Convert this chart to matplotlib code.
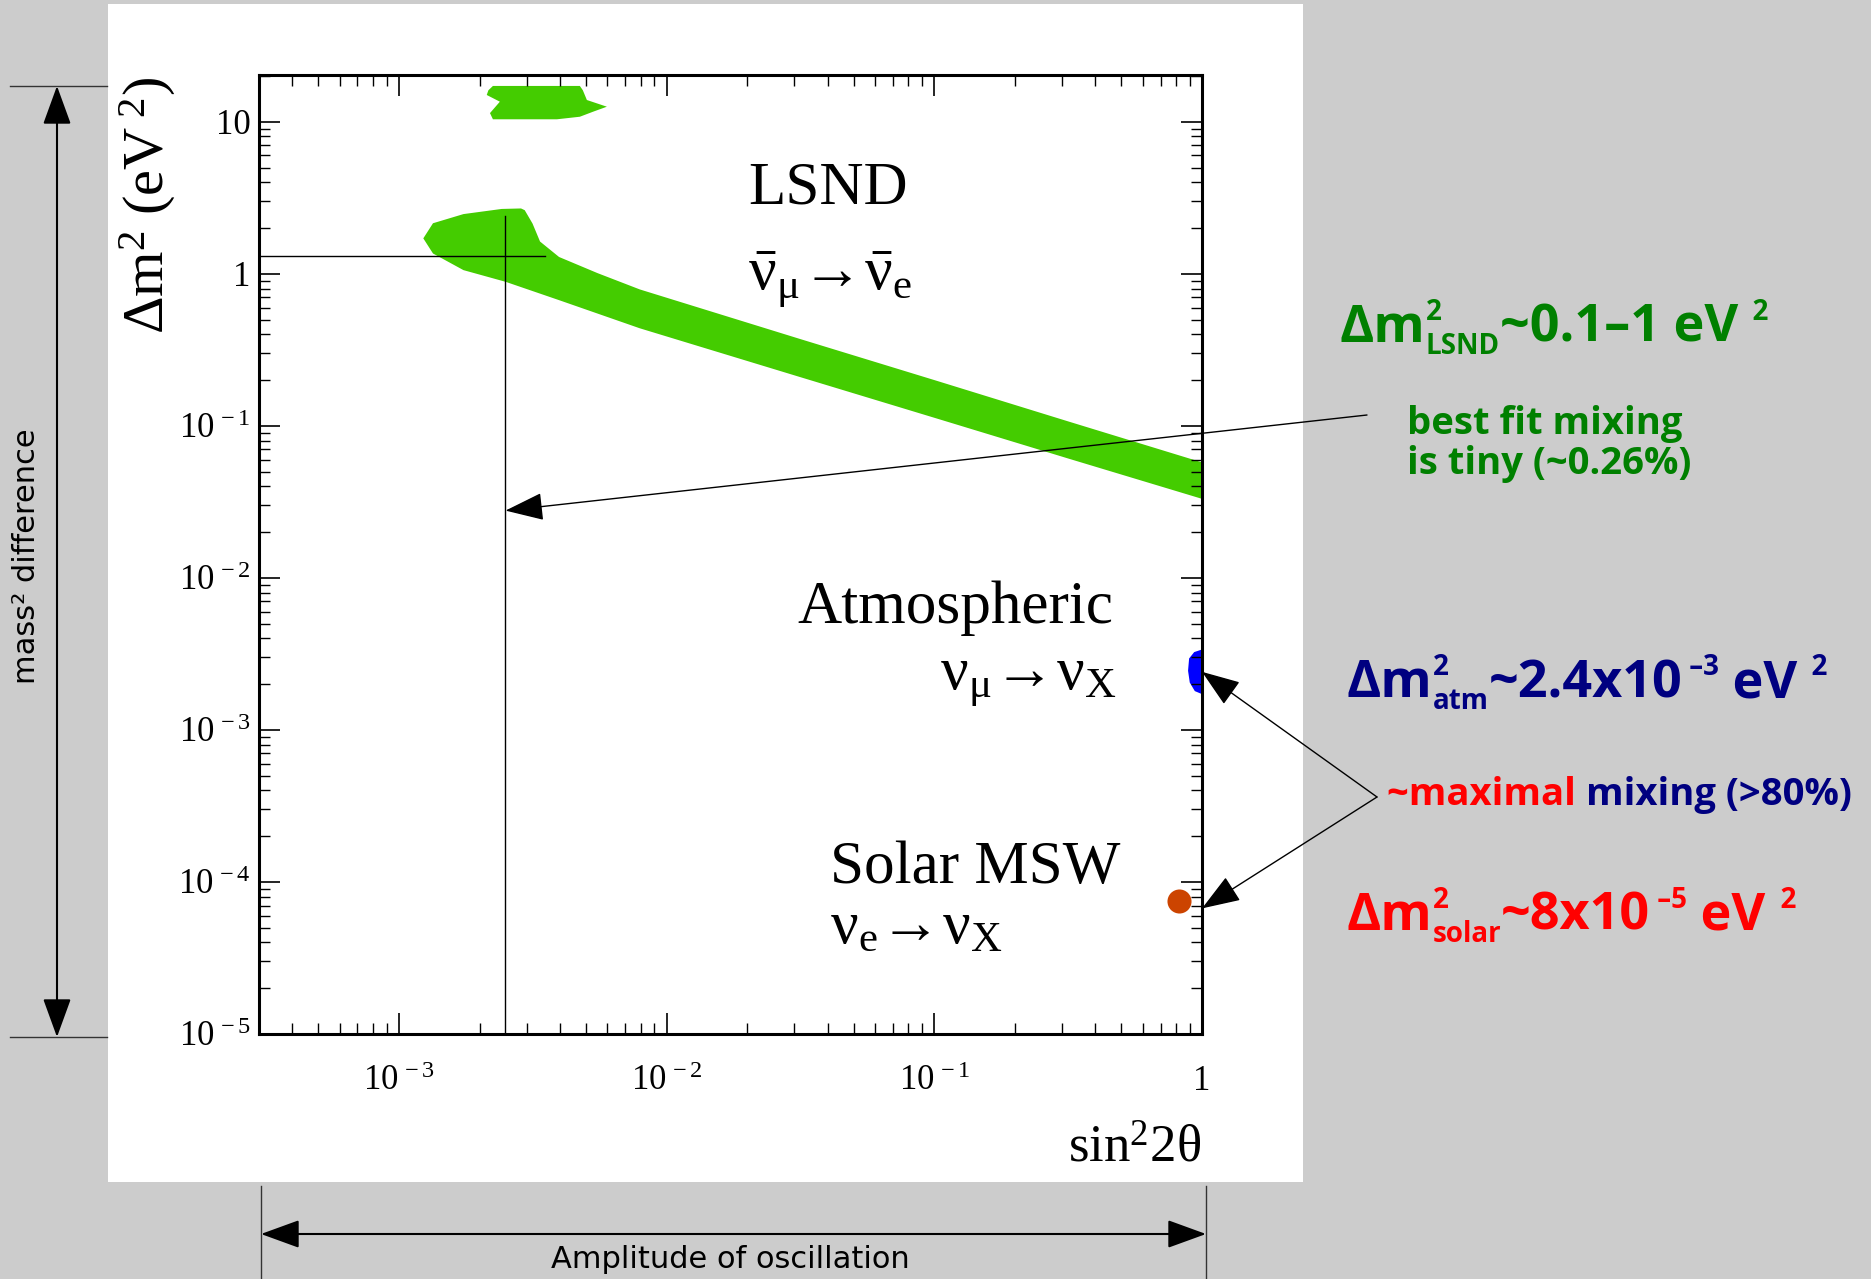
import matplotlib.pyplot as plt
from matplotlib.patches import Rectangle
from matplotlib.ticker import NullFormatter

plt.rcParams['mathtext.fontset'] = 'custom'
plt.rcParams['mathtext.rm'] = 'Liberation Serif'
plt.rcParams['mathtext.it'] = 'Liberation Serif:italic'
plt.rcParams['mathtext.bf'] = 'Liberation Serif:bold'
plt.rcParams['font.family'] = ['Liberation Serif', 'DejaVu Sans']

# axis ticks
x_ticks = [1e-3, 1e-2, 1e-1, 1]
x_ticklabels = [r'$10^{\,-3}$', r'$10^{\,-2}$', r'$10^{\,-1}$', '1']
y_ticks = [1e-5, 1e-4, 1e-3, 1e-2, 1e-1, 1, 10]
y_ticklabels = [r'$10^{\,-5}$', r'$10^{\,-4}$', r'$10^{\,-3}$', r'$10^{\,-2}$',
                r'$10^{\,-1}$', '1', '10']

# LSND allowed region (sin^2 2theta, dm^2)
lsnd_x = [1.233e-3, 1.34e-3, 1.742e-3, 2.42e-3, 2.858e-3, 2.95e-3, 3.155e-3, 3.365e-3,
          3.963e-3, 5.52e-3, 7.94e-3, 3.16e-2, 0.1, 0.316, 1.0,
          1.0, 0.316, 0.1, 3.16e-2, 7.94e-3, 3.963e-3, 2.506e-3, 1.742e-3, 1.34e-3]
lsnd_y = [1.71, 2.15, 2.47, 2.67, 2.69, 2.62, 2.14, 1.63,
          1.29, 1.01, 0.789, 0.372, 0.200, 0.107, 0.0575,
          0.0331, 0.061, 0.113, 0.209, 0.438, 0.671, 0.885, 1.057, 1.36]
# small LSND island near 10 eV^2
lsnd_hi_x = [2.128e-3, 2.158e-3, 2.244e-3, 4.74e-3, 4.864e-3, 5.035e-3, 5.98e-3,
             5.31e-3, 4.74e-3, 3.89e-3, 2.244e-3, 2.188e-3, 2.382e-3]
lsnd_hi_y = [15.0, 16.1, 17.2, 17.2, 16.1, 13.9, 12.56,
             11.64, 10.79, 10.38, 10.38, 11.4, 13.55]
# atmospheric region (at maximal mixing)
atm_x = [1.0, 0.935, 0.895, 0.887, 0.9, 0.94, 1.0]
atm_y = [3.38e-3, 3.25e-3, 2.95e-3, 2.45e-3, 2.05e-3, 1.80e-3, 1.72e-3]
# solar MSW best fit
solar_x = [0.82]
solar_y = [7.5e-5]
# LSND best fit cross-hair
best_x = 2.5e-3
best_y = 1.3

W, H = 1871, 1279
fig = plt.figure(figsize=(W / 100, H / 100), dpi=100, facecolor='#cccccc')
fig.add_artist(Rectangle((108 / W, 1 - 1182 / H), (1303 - 108) / W, (1182 - 4) / H,
                         transform=fig.transFigure, facecolor='white',
                         edgecolor='none', zorder=-1))

ax = fig.add_axes([259 / W, 1 - 1034 / H, (1202 - 259) / W, (1034 - 75) / H])
ax.set_xscale('log')
ax.set_yscale('log')
ax.set_xlim(3.0e-4, 1)
ax.set_ylim(1e-5, 20.3)

ax.fill(lsnd_x, lsnd_y, color='#44cc00', lw=0)
ax.fill(lsnd_hi_x, lsnd_hi_y, color='#44cc00', lw=0)
ax.fill(atm_x, atm_y, color='#0000ff', lw=0)
ax.scatter(solar_x, solar_y, s=300, color='#cc4400', lw=0, zorder=3)

ax.plot([3.0e-4, 3.5e-3], [best_y, best_y], color='k', lw=1)
ax.plot([best_x, best_x], [1e-5, 2.4], color='k', lw=1)

ax.set_xticks(x_ticks)
ax.set_xticklabels(x_ticklabels)
ax.set_yticks(y_ticks)
ax.set_yticklabels(y_ticklabels)
ax.xaxis.set_minor_formatter(NullFormatter())
ax.yaxis.set_minor_formatter(NullFormatter())
ax.tick_params(which='both', direction='in', top=True, right=True)
ax.tick_params(which='major', length=15, width=1.2)
ax.tick_params(which='minor', length=8, width=1.0)
ax.tick_params(axis='x', pad=22, labelsize=25)
ax.tick_params(axis='y', pad=6, labelsize=25)
for s in ax.spines.values():
    s.set_linewidth(2.2)

# overlay in pixel coordinates for labels and arrows
ov = fig.add_axes([0, 0, 1, 1], zorder=5)
ov.set_xlim(0, W)
ov.set_ylim(H, 0)
ov.axis('off')

serif = 44
arrow = r'\!\rightarrow\!'
ov.text(748, 203, 'LSND', fontsize=serif, va='baseline')
ov.text(748, 290, r'$\mathrm{\bar{ν}_{μ}' + arrow + r'\bar{ν}_{e}}$', fontsize=serif, va='baseline')
ov.text(797, 623, 'Atmospheric', fontsize=serif, va='baseline')
ov.text(1117, 690, r'$\mathrm{ν_{μ}' + arrow + r'ν_{X}}$', fontsize=serif, va='baseline', ha='right')
ov.text(830, 883, 'Solar MSW', fontsize=serif, va='baseline')
ov.text(830, 943, r'$\mathrm{ν_{e}' + arrow + r'ν_{X}}$', fontsize=serif, va='baseline')

ov.text(1201, 1162, r'$\mathrm{sin}^{2}\mathrm{2θ}$', fontsize=38, va='baseline', ha='right')
ov.text(178, 76, r'$\mathrm{Δm}^{2}\ \mathrm{(eV}^{\ 2}\mathrm{)}$', fontsize=42,
        rotation=90, ha='right', va='top')

sans = ['Open Sans', 'DejaVu Sans']
green, navy, red = '#008000', '#000080', '#ff0000'
renderer = fig.canvas.get_renderer()


def runs(x, y, parts, color):
    # parts: (text, size, baseline shift, advance)
    for s, size, dy, adv in parts:
        t = ov.text(x, y + dy, s, fontsize=size, color=color, family=sans,
                    weight='bold', va='baseline')
        if adv:
            x += t.get_window_extent(renderer).width
    return x


big, small = 37.5, 20
runs(1340, 342, [('Δm', big, 0, True), ('2', small, -22, False), ('LSND', small, 12, True),
                 ('~0.1–1 eV', big, 0, True), ('  2', small, -22, True)], green)
ov.text(1407, 434, 'best fit mixing', fontsize=27.5, color=green, family=sans,
        weight='bold', va='baseline')
ov.text(1407, 474, 'is tiny (~0.26%)', fontsize=27.5, color=green, family=sans,
        weight='bold', va='baseline')
runs(1347, 697, [('Δm', big, 0, True), ('2', small, -22, False), ('atm', small, 12, True),
                 ('~2.4x10', big, 0, True), (' –3', small, -22, True), (' eV', big, 0, True),
                 ('  2', small, -22, True)], navy)
x = runs(1387, 805, [('~maximal ', 27.5, 0, True)], red)
runs(x, 805, [('mixing (>80%)', 27.5, 0, True)], navy)
runs(1347, 930, [('Δm', big, 0, True), ('2', small, -22, False), ('solar', small, 12, True),
                 ('~8x10', big, 0, True), (' –5', small, -22, True), (' eV', big, 0, True),
                 ('  2', small, -22, True)], red)

head = dict(color='k', lw=1, shrinkA=0, shrinkB=0, mutation_scale=22,
            arrowstyle='-|>,head_length=1.1,head_width=0.4')
ov.annotate('', xy=(best_x, 0.0277), xycoords=ax.transData,
            xytext=(1367, 415), textcoords='data', arrowprops=head)
ov.annotate('', xy=(1.0, 2.41e-3), xycoords=ax.transData,
            xytext=(1377, 797), textcoords='data', arrowprops=head)
ov.annotate('', xy=(1.0, 6.7e-5), xycoords=ax.transData,
            xytext=(1377, 797), textcoords='data', arrowprops=head)

# outer dimension arrows
dbl = dict(color='k', lw=1.5, shrinkA=0, shrinkB=0, mutation_scale=22,
           arrowstyle='<|-|>,head_length=1.1,head_width=0.4')
ov.annotate('', xy=(57, 86), xytext=(57, 1037), arrowprops=dbl)
ov.plot([10, 107], [86, 86], color='#333333', lw=1)
ov.plot([10, 107], [1037, 1037], color='#333333', lw=1)
ov.text(27, 556, 'mass² difference', fontsize=22, rotation=90, ha='center', va='center',
        family=['Liberation Sans Narrow', 'DejaVu Sans'])

ov.annotate('', xy=(261, 1234), xytext=(1206, 1234), arrowprops=dbl)
ov.plot([261, 261], [1186, 1279], color='#333333', lw=1)
ov.plot([1206, 1206], [1186, 1279], color='#333333', lw=1)
ov.text(730, 1260, 'Amplitude of oscillation', fontsize=22, ha='center', va='center',
        family=['Liberation Sans Narrow', 'DejaVu Sans'])

fig.savefig('out.png', dpi=100, facecolor=fig.get_facecolor())
